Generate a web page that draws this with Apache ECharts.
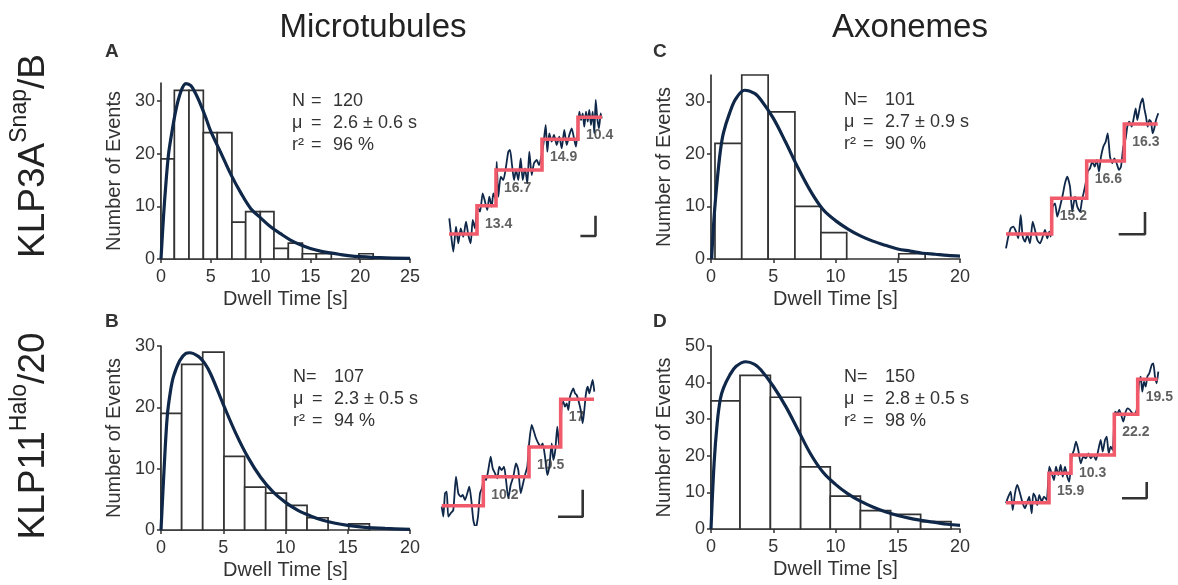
<!DOCTYPE html>
<html>
<head>
<meta charset="utf-8">
<script src="https://cdn.jsdelivr.net/npm/echarts@6/dist/echarts.min.js"></script>
<style>html,body{margin:0;padding:0;background:#fff;}#c{width:1178px;height:585px;}</style>
</head>
<body>
<div id="c"></div>
<script>
// ---------------- DATA ----------------
// Histograms: bin edges (s) and counts
var edgesA = [0, 1.34, 2.81, 4.25, 5.65, 7.12, 8.5, 9.97, 11.34, 12.78, 14.2, 15.6, 17.1, 18.46, 19.87, 21.3];
var countsA = [19, 32, 32, 24, 24, 7, 9, 9, 2, 3, 1, 1, 0, 0, 1];
var edgesC = [0.32, 2.47, 4.59, 6.74, 8.83, 10.9, 13.0, 15.08, 17.2];
var countsC = [22, 35, 28, 10, 5, 0, 0, 1];
var edgesB = [0, 1.66, 3.35, 5.06, 6.72, 8.41, 10.07, 11.73, 13.42, 15.08, 16.74];
var countsB = [19, 27, 29, 12, 7, 6, 4, 2, 0, 1];
var edgesD = [0, 2.33, 4.77, 7.2, 9.58, 12.0, 14.43, 16.84, 19.28];
var countsD = [35, 42, 36, 17, 9, 5, 4, 2];

// Fitted curves
var fitA_t = [0, 0.25, 0.5, 0.75, 1, 1.5, 2, 2.5, 3, 3.5, 4, 4.5, 5, 6, 7, 8, 9, 10, 11, 12, 13, 14, 15, 16, 17, 18, 19, 20, 22, 25];
var fitA_y = [0, 8, 14.5, 19.8, 23, 28.3, 31.8, 33.3, 32.9, 31.3, 29.2, 26.8, 24.2, 20.2, 16.1, 12.6, 9.6, 7.8, 6.1, 4.8, 3.6, 2.7, 2.0, 1.5, 1.15, 0.85, 0.6, 0.45, 0.25, 0.1];
var fitC_t = [0.05, 0.25, 0.5, 0.75, 1, 1.5, 2, 2.7, 3.5, 4, 5, 6, 7, 8, 9, 10, 11, 12, 13, 14, 15, 16, 17, 18, 19, 20];
var fitC_y = [0, 8, 15, 20.5, 24, 27.8, 30.5, 32.1, 31.5, 30.3, 26.8, 22.2, 17.3, 12.9, 9.4, 7.3, 5.7, 4.4, 3.4, 2.6, 1.9, 1.5, 1.1, 0.9, 0.7, 0.55];
var fitB_t = [0, 0.25, 0.5, 0.75, 1, 1.5, 2, 2.3, 3, 3.5, 4, 5, 6, 7, 8, 9, 10, 11, 12, 13, 14, 15, 16, 17, 18, 20];
var fitB_y = [0, 10, 18.5, 22.5, 25, 27.6, 28.8, 28.9, 28.3, 27.2, 25.4, 20.5, 15.8, 11.8, 8.6, 6.2, 4.5, 3.2, 2.3, 1.6, 1.1, 0.75, 0.5, 0.35, 0.25, 0.1];
var fitD_t = [0, 0.25, 0.5, 0.75, 1, 1.5, 2, 2.8, 3.5, 4, 5, 6, 7, 8, 9, 10, 11, 12, 13, 14, 15, 16, 17, 18, 19, 20];
var fitD_y = [0, 18, 29, 35.5, 38.5, 42, 44.4, 45.7, 45, 43.5, 39, 33.5, 27, 20.5, 15.5, 12.2, 9.6, 7.6, 6.0, 4.7, 3.7, 2.9, 2.3, 1.8, 1.3, 1.0];

// Example stepping traces (frame, position; arbitrary units)
var traceA = [[4.3,36.7],[6.3,18.3],[8.3,3.3],[11,28.3],[13.3,11.7],[15.7,26.7],[18.3,18.3],[21,33.3],[23.3,20],[25.7,11.7],[27.7,35],[30,26.7],
  [32.3,48.3],[35,43.3],[37.7,61.7],[40,53.3],[42.3,45],[44.3,58.3],[46.7,48.3],[48.3,61.7],[50.3,56.7],
  [51.7,93.3],[53.3,58.3],[55.7,78.3],[58.3,75],[61,88.3],[63.3,103.3],[65,105],[67,90],[69,75],[71,85],[73.3,75],[75.7,96.7],[77.7,75],[80,86.7],[82.3,71.7],[84.3,103.3],[86.7,80],[89,91.7],[91.7,95],[94,90],[96,96.7],
  [98.3,110],[100.7,130],[102.3,103.3],[104.3,121.7],[106.7,113.3],[109,120],[111.7,110],[114.3,118.3],[116.7,106.7],[119.3,125],[121.7,110],[124.3,120],[126.7,126.7],[129,116.7],[131,108.3],[132.7,125],
  [134.3,143.3],[136,135],[137.7,141.7],[139.3,128.3],[141,143.3],[142.7,133.3],[144.3,145],[146,130],[147.7,143.3],[149.3,121.7],[150.7,155],[152.3,136.7],[154,126.7],[155.7,141.7],[156.7,136.7]];
var traceC = [[11,6.7],[13.3,18.3],[15.7,26.7],[18.3,28.3],[21,23.3],[23.3,16.7],[25.7,40],[27.7,18.3],[30,13.3],[32.3,20],[35,11.7],[37.7,33.3],[40,25],[42.3,15],[45,11.7],[47.7,18.3],[50,25],[52.3,16.7],[54.3,23.3],[55.7,18.3],
  [57.7,48.3],[60,51.7],[62.3,38.3],[65,48.3],[67.7,60],[70,71.7],[72.3,78.3],[75,68.3],[77.3,43.3],[80,58.3],[82.3,48.3],[85,43.3],[87,55],[89.3,65],[91,73.3],
  [92.7,83.3],[95,86.7],[97.3,93.3],[99.7,88.3],[101.7,95],[104,83.3],[106,98.3],[108.3,108.3],[110.7,113.3],[112.7,121.7],[115,98.3],[117.3,91.7],[119.3,96.7],[121.7,91.7],[124,85],[126,88.3],[128.3,108.3],
  [130.7,116.7],[132.3,128.3],[134.3,133.3],[136.7,128.3],[139,138.3],[140.7,146.7],[142.3,135],[144,143.3],[145.7,151.7],[147.7,156.7],[149.3,146.7],[151,138.3],[152.7,128.3],[154.3,135],[156,133.3],[157.7,121.7],[159.3,126.7],[161,135],[163.3,141.7]];
var traceB = [[6.7,18.3],[8.3,8.3],[10,31.7],[11.7,33.3],[13.3,8.3],[15.7,11.7],[18.3,15],[21,48.3],[23.3,31.7],[25.7,28.3],[27.7,30],[30,25],[32.3,31.7],[34.3,38.3],[36.3,25],[38.3,5],[40.7,-3.3],[43,8.3],[45,31.7],[47,36.7],
  [49,46.7],[51,45],[53.3,55],[55.7,68.3],[57.7,56.7],[60,51.7],[62.3,46.7],[64.3,58.3],[66.7,55],[69,58.3],[71,45],[73.3,26.7],[75.7,40],[78.3,48.3],[81,61.7],[83.3,55],[85.7,31.7],[87.7,40],[90,50],[92.3,58.3],
  [94.3,83.3],[96.7,100],[99,93.3],[101,86.7],[103.3,81.7],[105.7,78.3],[107.7,81.7],[110,68.3],[112.3,50],[114.3,58.3],[116.7,81.7],[118.3,65],[120.3,75],[122.3,98.3],[124.3,78.3],
  [126.7,120],[128.3,123.3],[130,118.3],[131.7,121.7],[133.3,115],[135,128.3],[136.7,133.3],[138.3,136.7],[140,131.7],[141.7,130],[143.3,125],[145.7,115],[147.7,101.7],[149.3,115],[151,131.7],[152.7,138.3],[154.3,131.7],[156,138.3],[157.7,145],[159.3,133.3]];
var traceD = [[11,11.7],[13.3,18.3],[15.7,23.3],[17.7,5],[20,21.7],[22.3,30],[25,21.7],[27.7,11.7],[30,6.7],[32.3,13.3],[34.3,18.3],[36.7,1.7],[38.3,21.7],[40.3,18.3],[42.3,10],[44.3,20],[46.7,13.3],[49,18.3],[51.7,15],
  [54.3,48.3],[56.7,41.7],[59,35],[61,48.3],[63.3,40],[65.7,50],[67.7,38.3],[70,48.3],[72.3,38.3],[74.3,33.3],
  [76.7,58.3],[79,65],[81,73.3],[83.3,65],[85.7,51.7],[88.3,58.3],[91,56.7],[93.3,61.7],[95.7,56.7],[98.3,60],[101,55],[103.3,65],[105.7,75],[107.7,63.3],[110,75],[111.7,78.3],[113.7,61.7],[115.7,68.3],[117.7,65],
  [120,103.3],[122.3,101.7],[124.3,105],[126.7,98.3],[128.3,93.3],[130.7,103.3],[132.7,106.7],[135,105],[137.3,101.7],[139.3,100],[141.7,105],
  [144,131.7],[145.7,138.3],[147.3,123.3],[149,133.3],[150.7,128.3],[152.3,138.3],[154.3,141.7],[156.7,150],[158.3,151.7],[160,138.3],[161.7,131.7],[163.3,143.3]];

// Step fits: boundaries (frames) and levels
var stepTimesA = [4, 32, 51, 97, 133, 157];
var stepLevelsA = [21, 49.3, 85, 115.7, 137.7];
var stepTimesC = [11, 56.7, 91.7, 129.3, 162.7];
var stepLevelsC = [21, 56.7, 94, 131];
var stepTimesB = [6.7, 48.3, 94, 125.7, 159];
var stepLevelsB = [19.3, 48.3, 78, 125.7];
var stepTimesD = [11, 54, 76, 119.3, 142.7, 162.7];
var stepLevelsD = [12.3, 41.7, 60, 100.7, 135.7];

// Dwell labels for each step after the first
var dwellA = ['13.4', '16.7', '14.9', '10.4'];
var dwellC = ['15.2', '16.6', '16.3'];
var dwellB = ['10.2', '10.5', '17'];
var dwellD = ['15.9', '10.3', '22.2', '19.5'];

// Scale bars (L shape: corner-left, corner, top)
var scaleA = [[136.7, 19], [150.5, 19], [150.5, 38]];
var scaleC = [[125, 20.7], [150, 20.7], [150, 41.7]];
var scaleB = [[124.3, 8.3], [147.7, 8.3], [147.7, 34]];
var scaleD = [[128.3, 16.7], [151.7, 16.7], [151.7, 31.7]];

// Stats text
var statsA = [['N', '=', '120'], ['\u03bc', '=', '2.6 \u00b1 0.6 s'], ['r\u00b2', '=', '96 %']];
var statsC = [['N=', '', '101'], ['\u03bc', '=', '2.7 \u00b1 0.9 s'], ['r\u00b2', '=', '90 %']];
var statsB = [['N=', '', '107'], ['\u03bc', '=', '2.3 \u00b1 0.5 s'], ['r\u00b2', '=', '94 %']];
var statsD = [['N=', '', '150'], ['\u03bc', '=', '2.8 \u00b1 0.5 s'], ['r\u00b2', '=', '98 %']];

var xTicksA = [0, 5, 10, 15, 20, 25];
var xTicks20 = [0, 5, 10, 15, 20];
var yTicks30 = [0, 10, 20, 30];
var yTicks50 = [0, 10, 20, 30, 40, 50];

// ---------------- BUILD ----------------
var FONT = 'Liberation Sans, Arial, Helvetica, sans-serif';
var TXT = '#333333';
var NAVY = '#0f2748';
var RED = '#f05a6b';

function hist(edges, counts) {
  var out = [];
  for (var i = 0; i < counts.length; i++) if (counts[i] > 0) out.push([edges[i], edges[i + 1], counts[i]]);
  return out;
}
function zip(t, y) { return t.map(function (v, i) { return [v, y[i]]; }); }
function steps(times, levels) {
  var out = [];
  for (var i = 0; i < levels.length; i++) { out.push([times[i], levels[i]]); out.push([times[i + 1], levels[i]]); }
  return out;
}
function stepLabels(times, levels, labels) {
  return labels.map(function (l, i) { return { value: [times[i + 1], levels[i + 1]], name: l }; });
}
function histItem(params, api) {
  var p0 = api.coord([api.value(0), 0]);
  var p1 = api.coord([api.value(1), api.value(2)]);
  return { type: 'rect', shape: { x: p0[0], y: p1[1], width: p1[0] - p0[0], height: p0[1] - p1[1] },
    style: { fill: '#ffffff', stroke: '#333333', lineWidth: 1.7 } };
}

var grids = [
  { left: 161, top: 83, width: 249, height: 176 },   // A hist
  { left: 711, top: 75, width: 249, height: 184 },   // C hist
  { left: 161, top: 346, width: 249, height: 184 },  // B hist
  { left: 711, top: 346, width: 249, height: 183 },  // D hist
  { left: 445, top: 95, width: 170, height: 160 },   // A trace
  { left: 995, top: 95, width: 170, height: 160 },   // C trace
  { left: 435, top: 365, width: 170, height: 160 },  // B trace
  { left: 995, top: 355, width: 170, height: 160 }   // D trace
];

function histX(gi, max, ticks) {
  return { type: 'value', gridIndex: gi, min: 0, max: max,
    name: 'Dwell Time [s]', nameLocation: 'middle', nameGap: 30,
    nameTextStyle: { fontFamily: FONT, fontSize: 20, color: TXT },
    axisLine: { lineStyle: { color: '#333', width: 1.7 } },
    axisTick: { show: true, length: 4, customValues: ticks, lineStyle: { color: '#333', width: 1.5 } },
    axisLabel: { customValues: ticks, fontFamily: FONT, fontSize: 18, color: TXT, margin: 9 },
    splitLine: { show: false } };
}
function histY(gi, max, ticks) {
  return { type: 'value', gridIndex: gi, min: 0, max: max,
    name: 'Number of Events', nameLocation: 'middle', nameGap: 37,
    nameTextStyle: { fontFamily: FONT, fontSize: 20, color: TXT },
    axisLine: { show: true, lineStyle: { color: '#333', width: 1.7 } },
    axisTick: { show: true, length: 4, customValues: ticks, lineStyle: { color: '#333', width: 1.5 } },
    axisLabel: { customValues: ticks, fontFamily: FONT, fontSize: 18, color: TXT, margin: 6 },
    splitLine: { show: false } };
}
function hiddenAxis(gi, min, max) {
  return { type: 'value', gridIndex: gi, min: min, max: max, show: false, splitLine: { show: false } };
}

var xAxes = [histX(0, 25, xTicksA), histX(1, 20, xTicks20), histX(2, 20, xTicks20), histX(3, 20, xTicks20),
  hiddenAxis(4, 0, 170), hiddenAxis(5, 0, 170), hiddenAxis(6, 0, 170), hiddenAxis(7, 0, 170)];
var yAxes = [histY(0, 33.4, yTicks30), histY(1, 35, yTicks30), histY(2, 30, yTicks30), histY(3, 50, yTicks50),
  hiddenAxis(4, 0, 160), hiddenAxis(5, 0, 160), hiddenAxis(6, 0, 160), hiddenAxis(7, 0, 160)];

var series = [];
function addHist(gi, edges, counts, ft, fy) {
  series.push({ type: 'custom', xAxisIndex: gi, yAxisIndex: gi, renderItem: histItem, data: hist(edges, counts),
    encode: { x: [0, 1], y: 2 }, silent: true, z: 2 });
  series.push({ type: 'line', xAxisIndex: gi, yAxisIndex: gi, data: zip(ft, fy), smooth: 0.35, showSymbol: false,
    lineStyle: { color: NAVY, width: 3.2 }, silent: true, z: 4 });
}
addHist(0, edgesA, countsA, fitA_t, fitA_y);
addHist(1, edgesC, countsC, fitC_t, fitC_y);
addHist(2, edgesB, countsB, fitB_t, fitB_y);
addHist(3, edgesD, countsD, fitD_t, fitD_y);

function addTrace(gi, trace, times, levels, labels, scale) {
  series.push({ type: 'line', xAxisIndex: gi, yAxisIndex: gi, data: trace, showSymbol: false, smooth: 0.2,
    lineStyle: { color: NAVY, width: 1.8 }, silent: true, z: 3 });
  series.push({ type: 'line', xAxisIndex: gi, yAxisIndex: gi, data: steps(times, levels), showSymbol: false,
    lineStyle: { color: RED, width: 3.6, join: 'miter' }, silent: true, z: 4 });
  series.push({ type: 'scatter', xAxisIndex: gi, yAxisIndex: gi, data: stepLabels(times, levels, labels), symbolSize: 0,
    label: { show: true, position: [8, 18], align: 'left', verticalAlign: 'middle', formatter: '{b}',
      fontFamily: FONT, fontSize: 14, fontWeight: 'bold', color: '#383838' }, silent: true, z: 5 });
  series.push({ type: 'line', xAxisIndex: gi, yAxisIndex: gi, data: scale, showSymbol: false,
    lineStyle: { color: '#333', width: 2.6, cap: 'square' }, silent: true, z: 3 });
}
addTrace(4, traceA, stepTimesA, stepLevelsA, dwellA, scaleA);
addTrace(5, traceC, stepTimesC, stepLevelsC, dwellC, scaleC);
addTrace(6, traceB, stepTimesB, stepLevelsB, dwellB, scaleB);
addTrace(7, traceD, stepTimesD, stepLevelsD, dwellD, scaleD);

var graphics = [];
function txt(x, y, s, opts) {
  var st = { text: s, x: 0, y: 0, fontFamily: FONT, fontSize: 18, fill: TXT, align: 'left', verticalAlign: 'middle' };
  for (var k in opts) st[k] = opts[k];
  graphics.push({ type: 'text', x: x, y: y, style: st, silent: true });
}
function stats(x0, y0, rows) {
  rows.forEach(function (r, i) {
    var y = y0 + i * 22;
    txt(x0, y, r[0], {});
    if (r[1]) txt(x0 + 19, y, r[1], {});
    txt(x0 + 41, y, r[2], {});
  });
}
stats(292, 101, statsA);
stats(844, 100, statsC);
stats(293, 377, statsB);
stats(844, 377, statsD);

txt(373, 28, 'Microtubules', { fontSize: 33, align: 'center', fill: '#222' });
txt(910, 28, 'Axonemes', { fontSize: 33, align: 'center', fill: '#222' });
txt(105, 52, 'A', { fontSize: 19, fontWeight: 'bold', fill: '#333' });
txt(105, 322, 'B', { fontSize: 19, fontWeight: 'bold', fill: '#333' });
txt(653, 52, 'C', { fontSize: 19, fontWeight: 'bold', fill: '#333' });
txt(653, 322, 'D', { fontSize: 19, fontWeight: 'bold', fill: '#333' });

function rowLabel(y, a, sup, b) {
  graphics.push({ type: 'text', x: 30, y: y, rotation: Math.PI / 2, silent: true,
    style: { text: '{m|' + a + '}{s|' + sup + '}{m|' + b + '}', align: 'center', verticalAlign: 'middle',
      rich: {
        m: { fontFamily: FONT, fontSize: 37, fill: '#222', lineHeight: 44, verticalAlign: 'bottom' },
        s: { fontFamily: FONT, fontSize: 23, fill: '#222', lineHeight: 44, verticalAlign: 'top' }
      } } });
}
rowLabel(156, 'KLP3A', 'Snap', '/B');
rowLabel(436, 'KLP11', 'Halo', '/20');

var chart = echarts.init(document.getElementById('c'), null, { renderer: 'canvas' });
chart.setOption({
  animation: false,
  backgroundColor: '#ffffff',
  grid: grids,
  xAxis: xAxes,
  yAxis: yAxes,
  series: series,
  graphic: graphics
});
</script>
</body>
</html>
